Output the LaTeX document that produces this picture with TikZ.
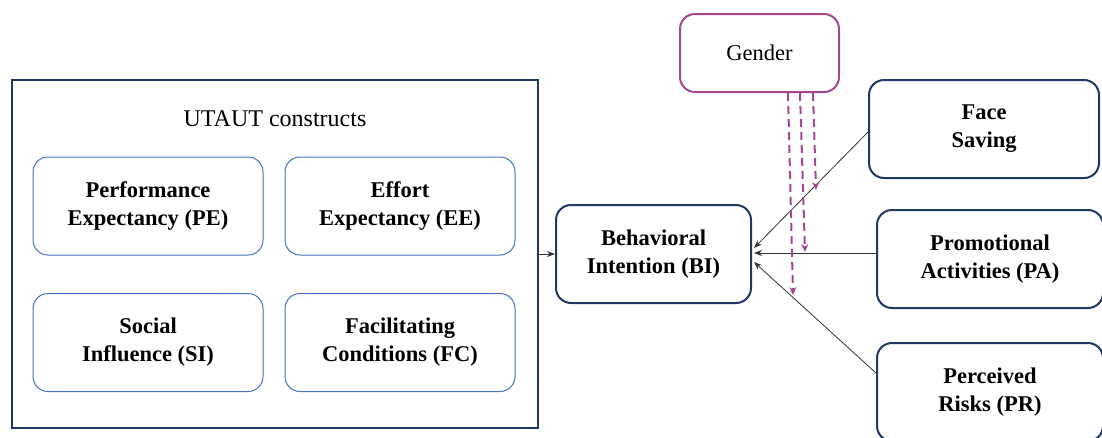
\documentclass[tikz,border=0pt]{standalone}
\usepackage{fontspec}
\setmainfont{Liberation Serif}
\usepackage{xcolor}
\usetikzlibrary{positioning, arrows.meta}
\definecolor{navy}{RGB}{31,56,100}
\definecolor{lightblue}{RGB}{68,114,196}
\definecolor{plum}{RGB}{166,70,146}

\begin{document}
\begin{tikzpicture}[x=1pt, y=-1pt,
  every node/.style={inner sep=2pt, align=center},
  construct/.style={draw=lightblue, line width=1pt, rounded corners=15pt, minimum width=230pt, minimum height=98pt, font=\fontsize{22.5}{28}\selectfont\bfseries},
  factor/.style={draw=navy, line width=2pt, rounded corners=15pt, minimum height=98pt, font=\fontsize{22.5}{28}\selectfont\bfseries},
  link/.style={draw=black!80, line width=0.8pt, -{Stealth[length=8pt,width=6pt]}},
  moderate/.style={draw=plum, line width=2pt, dash pattern=on 8pt off 5pt, -{Stealth[length=8pt,width=7pt]}}]
  \useasboundingbox (0,0) rectangle (1102,437);
  % UTAUT block
  \node[draw=navy, line width=2pt, minimum width=526pt, minimum height=348pt] (utaut) at (275,254) {};
  \node[font=\fontsize{24}{28}\selectfont] (title) at (275,119) {UTAUT constructs};
  \node[construct] (pe) at (148,206) {Performance\\Expectancy (PE)};
  \node[construct] (ee) at (400,206) {Effort\\Expectancy (EE)};
  \node[construct] (si) at (148,342.5) {Social\\Influence (SI)};
  \node[construct] (fc) at (400,342.5) {Facilitating\\Conditions (FC)};
  % outcome and other factors
  \node[factor, minimum width=195pt] (bi) at (653.5,254) {Behavioral\\Intention (BI)};
  \node[draw=plum, line width=2pt, rounded corners=15pt, minimum width=159pt, minimum height=78pt, font=\fontsize{22.5}{28}\selectfont] (gender) at (759.5,53) {Gender};
  \node[factor, minimum width=230pt] (fs) at (984,129) {Face\\Saving};
  \node[factor, minimum width=226pt] (pa) at (990,259) {Promotional\\Activities (PA)};
  \node[factor, minimum width=226pt] (pr) at (990,392) {Perceived\\Risks (PR)};
  % paths
  \draw[link] (utaut.east) -- (bi.west);
  \draw[link] ([yshift=-3pt]fs.west) -- ([xshift=2pt,yshift=6pt]bi.east);
  \draw[link] ([yshift=6pt]pa.west) -- ([xshift=2pt,yshift=1pt]bi.east);
  \draw[link] ([yshift=19pt]pr.west) -- ([xshift=2pt,yshift=-8pt]bi.east);
  % moderating effects
  \coordinate (m1) at (793,295);
  \coordinate (m2) at (805,252);
  \coordinate (m3) at (816,190);
  \draw[moderate] ([xshift=28.5pt]gender.south) -- (m1);
  \draw[moderate] ([xshift=40.5pt]gender.south) -- (m2);
  \draw[moderate] ([xshift=53.5pt]gender.south) -- (m3);
\end{tikzpicture}
\end{document}
